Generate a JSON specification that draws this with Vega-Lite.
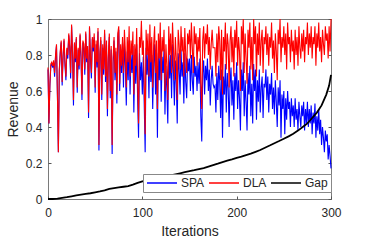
{
"$schema": "https://vega.github.io/schema/vega-lite/v6.json",
"width": 283, "height": 180,
"autosize": "none",
"padding": {"left": 48, "top": 19, "right": 35, "bottom": 43},
"config": {
  "font": "Liberation Sans",
  "view": {"stroke": "#7a7a7a", "strokeWidth": 1},
  "axis": {"domain": false, "grid": false, "tickSize": -3, "tickColor": "#555555", "labelColor": "#262626", "labelFontSize": 12, "labelFlush": false, "titleColor": "#262626", "titleFontSize": 14, "titleFontWeight": "normal"},
  "legend": {"labelFontSize": 12, "labelColor": "#262626"}
},
"datasets": {
"main": [
{"i":0,"s":0.72,"d":0.73},{"i":1,"s":0.42,"d":0.42},{"i":2,"s":0.63,"d":0.64},{"i":3,"s":0.74,"d":0.75},{"i":4,"s":0.75,"d":0.76},{"i":5,"s":0.73,"d":0.74},{"i":6,"s":0.76,"d":0.77},{"i":7,"s":0.68,"d":0.70},{"i":8,"s":0.79,"d":0.80},{"i":9,"s":0.85,"d":0.86},
{"i":10,"s":0.57,"d":0.58},{"i":11,"s":0.26,"d":0.26},{"i":12,"s":0.71,"d":0.72},{"i":13,"s":0.81,"d":0.82},{"i":14,"s":0.87,"d":0.88},{"i":15,"s":0.63,"d":0.65},{"i":16,"s":0.79,"d":0.80},{"i":17,"s":0.88,"d":0.89},{"i":18,"s":0.74,"d":0.76},{"i":19,"s":0.66,"d":0.68},
{"i":20,"s":0.83,"d":0.84},{"i":21,"s":0.78,"d":0.80},{"i":22,"s":0.91,"d":0.92},{"i":23,"s":0.84,"d":0.85},{"i":24,"s":0.67,"d":0.70},{"i":25,"s":0.96,"d":0.97},{"i":26,"s":0.81,"d":0.82},{"i":27,"s":0.52,"d":0.55},{"i":28,"s":0.86,"d":0.87},{"i":29,"s":0.76,"d":0.78},
{"i":30,"s":0.89,"d":0.90},{"i":31,"s":0.59,"d":0.62},{"i":32,"s":0.83,"d":0.84},{"i":33,"s":0.72,"d":0.74},{"i":34,"s":0.91,"d":0.92},{"i":35,"s":0.78,"d":0.80},{"i":36,"s":0.55,"d":0.58},{"i":37,"s":0.87,"d":0.88},{"i":38,"s":0.84,"d":0.86},{"i":39,"s":0.69,"d":0.72},
{"i":40,"s":0.92,"d":0.93},{"i":41,"s":0.76,"d":0.78},{"i":42,"s":0.83,"d":0.85},{"i":43,"s":0.45,"d":0.48},{"i":44,"s":0.95,"d":0.96},{"i":45,"s":0.78,"d":0.80},{"i":46,"s":0.67,"d":0.70},{"i":47,"s":0.89,"d":0.90},{"i":48,"s":0.82,"d":0.84},{"i":49,"s":0.90,"d":0.92},
{"i":50,"s":0.59,"d":0.62},{"i":51,"s":0.86,"d":0.88},{"i":52,"s":0.73,"d":0.76},{"i":53,"s":0.93,"d":0.95},{"i":54,"s":0.27,"d":0.30},{"i":55,"s":0.80,"d":0.82},{"i":56,"s":0.88,"d":0.90},{"i":57,"s":0.55,"d":0.58},{"i":58,"s":0.84,"d":0.86},{"i":59,"s":0.69,"d":0.72},
{"i":60,"s":0.92,"d":0.94},{"i":61,"s":0.65,"d":0.68},{"i":62,"s":0.86,"d":0.88},{"i":63,"s":0.46,"d":0.50},{"i":64,"s":0.78,"d":0.80},{"i":65,"s":0.90,"d":0.92},{"i":66,"s":0.56,"d":0.60},{"i":67,"s":0.83,"d":0.85},{"i":68,"s":0.25,"d":0.30},{"i":69,"s":0.75,"d":0.78},
{"i":70,"s":0.88,"d":0.90},{"i":71,"s":0.66,"d":0.70},{"i":72,"s":0.82,"d":0.84},{"i":73,"s":0.53,"d":0.58},{"i":74,"s":0.90,"d":0.92},{"i":75,"s":0.94,"d":0.96},{"i":76,"s":0.60,"d":0.64},{"i":77,"s":0.83,"d":0.86},{"i":78,"s":0.70,"d":0.74},{"i":79,"s":0.87,"d":0.90},
{"i":80,"s":0.62,"d":0.70},{"i":81,"s":0.86,"d":0.94},{"i":82,"s":0.74,"d":0.82},{"i":83,"s":0.52,"d":0.62},{"i":84,"s":0.82,"d":0.90},{"i":85,"s":0.66,"d":0.76},{"i":86,"s":0.88,"d":0.96},{"i":87,"s":0.58,"d":0.68},{"i":88,"s":0.80,"d":0.88},{"i":89,"s":0.70,"d":0.80},
{"i":90,"s":0.85,"d":0.93},{"i":91,"s":0.48,"d":0.58},{"i":92,"s":0.77,"d":0.86},{"i":93,"s":0.64,"d":0.74},{"i":94,"s":0.86,"d":0.95},{"i":95,"s":0.56,"d":0.66},{"i":96,"s":0.34,"d":0.42},{"i":97,"s":0.81,"d":0.90},{"i":98,"s":0.66,"d":0.84},{"i":99,"s":0.76,"d":0.99},
{"i":100,"s":0.58,"d":0.80},{"i":101,"s":0.79,"d":0.88},{"i":102,"s":0.53,"d":0.64},{"i":103,"s":0.26,"d":0.36},{"i":104,"s":0.84,"d":0.94},{"i":105,"s":0.69,"d":0.80},{"i":106,"s":0.82,"d":0.92},{"i":107,"s":0.56,"d":0.68},{"i":108,"s":0.87,"d":0.97},{"i":109,"s":0.65,"d":0.76},
{"i":110,"s":0.80,"d":0.90},{"i":111,"s":0.50,"d":0.62},{"i":112,"s":0.75,"d":0.86},{"i":113,"s":0.86,"d":0.96},{"i":114,"s":0.58,"d":0.70},{"i":115,"s":0.77,"d":0.88},{"i":116,"s":0.34,"d":0.50},{"i":117,"s":0.81,"d":0.92},{"i":118,"s":0.66,"d":0.78},{"i":119,"s":0.87,"d":0.98},
{"i":120,"s":0.54,"d":0.66},{"i":121,"s":0.79,"d":0.90},{"i":122,"s":0.70,"d":0.82},{"i":123,"s":0.83,"d":0.94},{"i":124,"s":0.47,"d":0.60},{"i":125,"s":0.74,"d":0.86},{"i":126,"s":0.61,"d":0.74},{"i":127,"s":0.42,"d":0.55},{"i":128,"s":0.84,"d":0.96},{"i":129,"s":0.67,"d":0.80},
{"i":130,"s":0.80,"d":0.92},{"i":131,"s":0.56,"d":0.70},{"i":132,"s":0.86,"d":0.98},{"i":133,"s":0.71,"d":0.84},{"i":134,"s":0.52,"d":0.66},{"i":135,"s":0.77,"d":0.90},{"i":136,"s":0.64,"d":0.78},{"i":137,"s":0.42,"d":0.55},{"i":138,"s":0.81,"d":0.94},{"i":139,"s":0.72,"d":0.86},
{"i":140,"s":0.58,"d":0.72},{"i":141,"s":0.83,"d":0.96},{"i":142,"s":0.68,"d":0.82},{"i":143,"s":0.76,"d":0.90},{"i":144,"s":0.53,"d":0.68},{"i":145,"s":0.81,"d":0.95},{"i":146,"s":0.65,"d":0.80},{"i":147,"s":0.56,"d":0.70},{"i":148,"s":0.78,"d":0.92},{"i":149,"s":0.71,"d":0.86},
{"i":150,"s":0.78,"d":0.94},{"i":151,"s":0.60,"d":0.78},{"i":152,"s":0.80,"d":0.98},{"i":153,"s":0.66,"d":0.84},{"i":154,"s":0.58,"d":0.70},{"i":155,"s":0.79,"d":0.96},{"i":156,"s":0.68,"d":0.86},{"i":157,"s":0.74,"d":0.92},{"i":158,"s":0.60,"d":0.74},{"i":159,"s":0.76,"d":0.90},
{"i":160,"s":0.64,"d":0.82},{"i":161,"s":0.78,"d":0.95},{"i":162,"s":0.46,"d":0.64},{"i":163,"s":0.32,"d":0.50},{"i":164,"s":0.70,"d":0.88},{"i":165,"s":0.77,"d":0.96},{"i":166,"s":0.58,"d":0.78},{"i":167,"s":0.74,"d":0.92},{"i":168,"s":0.66,"d":0.86},{"i":169,"s":0.78,"d":0.97},
{"i":170,"s":0.60,"d":0.80},{"i":171,"s":0.72,"d":0.90},{"i":172,"s":0.52,"d":0.72},{"i":173,"s":0.66,"d":0.86},{"i":174,"s":0.74,"d":0.94},{"i":175,"s":0.64,"d":0.84},{"i":176,"s":0.62,"d":0.84},{"i":177,"s":0.63,"d":0.84},{"i":178,"s":0.48,"d":0.68},{"i":179,"s":0.70,"d":0.92},
{"i":180,"s":0.55,"d":0.76},{"i":181,"s":0.74,"d":0.96},{"i":182,"s":0.66,"d":0.88},{"i":183,"s":0.45,"d":0.66},{"i":184,"s":0.72,"d":0.94},{"i":185,"s":0.34,"d":0.58},{"i":186,"s":0.68,"d":0.90},{"i":187,"s":0.58,"d":0.82},{"i":188,"s":0.75,"d":0.98},{"i":189,"s":0.48,"d":0.72},
{"i":190,"s":0.70,"d":0.92},{"i":191,"s":0.62,"d":0.86},{"i":192,"s":0.40,"d":0.62},{"i":193,"s":0.64,"d":0.88},{"i":194,"s":0.73,"d":0.96},{"i":195,"s":0.52,"d":0.76},{"i":196,"s":0.66,"d":0.90},{"i":197,"s":0.44,"d":0.68},{"i":198,"s":0.70,"d":0.94},{"i":199,"s":0.60,"d":0.84},
{"i":200,"s":0.76,"d":0.99},{"i":201,"s":0.50,"d":0.74},{"i":202,"s":0.66,"d":0.90},{"i":203,"s":0.56,"d":0.82},{"i":204,"s":0.38,"d":0.60},{"i":205,"s":0.72,"d":0.96},{"i":206,"s":0.60,"d":0.86},{"i":207,"s":0.76,"d":1.00},{"i":208,"s":0.46,"d":0.70},{"i":209,"s":0.66,"d":0.92},
{"i":210,"s":0.54,"d":0.78},{"i":211,"s":0.38,"d":0.64},{"i":212,"s":0.70,"d":0.94},{"i":213,"s":0.58,"d":0.84},{"i":214,"s":0.74,"d":0.98},{"i":215,"s":0.46,"d":0.72},{"i":216,"s":0.64,"d":0.90},{"i":217,"s":0.42,"d":0.66},{"i":218,"s":0.75,"d":1.00},{"i":219,"s":0.60,"d":0.86},
{"i":220,"s":0.72,"d":0.96},{"i":221,"s":0.44,"d":0.68},{"i":222,"s":0.66,"d":0.92},{"i":223,"s":0.54,"d":0.80},{"i":224,"s":0.72,"d":0.98},{"i":225,"s":0.48,"d":0.74},{"i":226,"s":0.62,"d":0.88},{"i":227,"s":0.68,"d":0.94},{"i":228,"s":0.45,"d":0.70},{"i":229,"s":0.64,"d":0.90},
{"i":230,"s":0.62,"d":0.86},{"i":231,"s":0.72,"d":0.96},{"i":232,"s":0.55,"d":0.80},{"i":233,"s":0.68,"d":0.92},{"i":234,"s":0.48,"d":0.74},{"i":235,"s":0.64,"d":0.90},{"i":236,"s":0.58,"d":0.84},{"i":237,"s":0.70,"d":0.98},{"i":238,"s":0.50,"d":0.78},{"i":239,"s":0.62,"d":0.88},
{"i":240,"s":0.47,"d":0.70},{"i":241,"s":0.66,"d":0.92},{"i":242,"s":0.54,"d":0.82},{"i":243,"s":0.40,"d":0.66},{"i":244,"s":0.62,"d":0.94},{"i":245,"s":0.52,"d":0.86},{"i":246,"s":0.66,"d":1.00},{"i":247,"s":0.34,"d":0.76},{"i":248,"s":0.58,"d":0.90},{"i":249,"s":0.50,"d":0.84},
{"i":250,"s":0.60,"d":0.96},{"i":251,"s":0.36,"d":0.80},{"i":252,"s":0.56,"d":0.92},{"i":253,"s":0.44,"d":0.72},{"i":254,"s":0.60,"d":0.98},{"i":255,"s":0.50,"d":0.86},{"i":256,"s":0.54,"d":0.90},{"i":257,"s":0.40,"d":0.76},{"i":258,"s":0.56,"d":0.94},{"i":259,"s":0.46,"d":0.82},
{"i":260,"s":0.52,"d":0.88},{"i":261,"s":0.40,"d":0.72},{"i":262,"s":0.56,"d":0.94},{"i":263,"s":0.44,"d":0.80},{"i":264,"s":0.50,"d":0.90},{"i":265,"s":0.38,"d":0.74},{"i":266,"s":0.54,"d":0.96},{"i":267,"s":0.46,"d":0.84},{"i":268,"s":0.40,"d":0.78},{"i":269,"s":0.52,"d":0.92},
{"i":270,"s":0.46,"d":0.82},{"i":271,"s":0.54,"d":0.94},{"i":272,"s":0.38,"d":0.76},{"i":273,"s":0.50,"d":0.90},{"i":274,"s":0.42,"d":0.86},{"i":275,"s":0.54,"d":0.98},{"i":276,"s":0.40,"d":0.80},{"i":277,"s":0.50,"d":0.92},{"i":278,"s":0.42,"d":0.84},{"i":279,"s":0.52,"d":0.96},
{"i":280,"s":0.36,"d":0.78},{"i":281,"s":0.48,"d":0.90},{"i":282,"s":0.42,"d":0.86},{"i":283,"s":0.53,"d":0.96},{"i":284,"s":0.34,"d":0.74},{"i":285,"s":0.46,"d":0.92},{"i":286,"s":0.38,"d":0.84},{"i":287,"s":0.50,"d":0.98},{"i":288,"s":0.36,"d":0.82},{"i":289,"s":0.44,"d":0.90},
{"i":290,"s":0.30,"d":0.76},{"i":291,"s":0.40,"d":0.94},{"i":292,"s":0.34,"d":0.86},{"i":293,"s":0.26,"d":0.80},{"i":294,"s":0.38,"d":0.96},{"i":295,"s":0.32,"d":0.88},{"i":296,"s":0.36,"d":0.92},{"i":297,"s":0.22,"d":0.78},{"i":298,"s":0.30,"d":0.96},{"i":299,"s":0.24,"d":0.82},{"i":300,"s":0.17,"d":1.00}
],
"gap": [
{"i":0,"g":0},{"i":5,"g":0.0},{"i":10,"g":0.002},{"i":15,"g":0.006},{"i":20,"g":0.01},{"i":25,"g":0.015},{"i":30,"g":0.02},{"i":35,"g":0.024},{"i":40,"g":0.028},{"i":45,"g":0.032},{"i":50,"g":0.037},{"i":55,"g":0.042},{"i":60,"g":0.048},{"i":65,"g":0.056},{"i":70,"g":0.06},{"i":75,"g":0.064},{"i":80,"g":0.068},{"i":85,"g":0.072},{"i":90,"g":0.08},{"i":95,"g":0.09},{"i":100,"g":0.098},{"i":105,"g":0.104},{"i":110,"g":0.11},{"i":115,"g":0.115},{"i":120,"g":0.12},{"i":125,"g":0.126},{"i":130,"g":0.131},{"i":135,"g":0.137},{"i":140,"g":0.143},{"i":145,"g":0.149},{"i":150,"g":0.155},{"i":155,"g":0.16},{"i":160,"g":0.166},{"i":165,"g":0.172},{"i":170,"g":0.18},{"i":175,"g":0.188},{"i":180,"g":0.196},{"i":185,"g":0.205},{"i":190,"g":0.213},{"i":195,"g":0.22},{"i":200,"g":0.228},{"i":205,"g":0.235},{"i":210,"g":0.244},{"i":215,"g":0.252},{"i":220,"g":0.262},{"i":225,"g":0.272},{"i":230,"g":0.285},{"i":235,"g":0.297},{"i":240,"g":0.31},{"i":245,"g":0.322},{"i":250,"g":0.335},{"i":255,"g":0.348},{"i":260,"g":0.362},{"i":265,"g":0.38},{"i":270,"g":0.4},{"i":275,"g":0.42},{"i":280,"g":0.45},{"i":285,"g":0.48},{"i":290,"g":0.52},{"i":295,"g":0.58},{"i":298,"g":0.63},{"i":300,"g":0.69}
]
},
"layer": [
{
  "data": {"name": "main"},
  "mark": {"type": "line", "strokeWidth": 1.1},
  "encoding": {
    "x": {"field": "i", "type": "quantitative", "scale": {"domain": [0, 300], "nice": false}, "axis": {"orient": "bottom", "values": [0, 100, 200, 300], "title": "Iterations", "labelPadding": 11, "titlePadding": 6}},
    "y": {"field": "s", "type": "quantitative", "scale": {"domain": [0, 1], "nice": false}, "axis": {"orient": "left", "values": [0, 0.2, 0.4, 0.6, 0.8, 1], "format": "~g", "title": "Revenue", "labelPadding": 9, "titlePadding": 5}},
    "color": {"datum": "SPA", "type": "nominal", "scale": {"domain": ["SPA", "DLA", "Gap"], "range": ["#0000ff", "#ff0000", "#000000"]},
      "legend": {"title": null, "orient": "none", "direction": "horizontal", "legendX": 95, "legendY": 155, "padding": 3, "strokeColor": "#888888", "fillColor": "#ffffff", "symbolType": "stroke", "symbolSize": 900, "symbolStrokeWidth": 1.5, "clipHeight": 12, "labelOffset": 3, "columnPadding": 3}}
  }
},
{
  "data": {"name": "main"},
  "mark": {"type": "line", "strokeWidth": 1.1},
  "encoding": {
    "x": {"field": "i", "type": "quantitative", "axis": null},
    "y": {"field": "d", "type": "quantitative", "axis": {"orient": "right", "values": [0, 0.2, 0.4, 0.6, 0.8, 1], "labels": false, "title": null}},
    "color": {"datum": "DLA", "type": "nominal"}
  }
},
{
  "data": {"name": "gap"},
  "mark": {"type": "line", "strokeWidth": 1.8},
  "encoding": {
    "x": {"field": "i", "type": "quantitative", "axis": null},
    "y": {"field": "g", "type": "quantitative", "axis": null},
    "color": {"datum": "Gap", "type": "nominal"}
  }
}
],
"resolve": {"axis": {"x": "independent", "y": "independent"}}
}
